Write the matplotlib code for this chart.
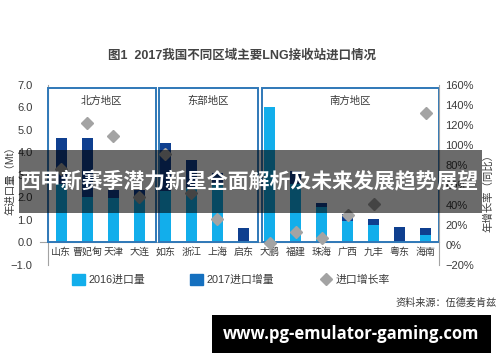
import numpy as np
import matplotlib
matplotlib.use("Agg")
import matplotlib.pyplot as plt
from matplotlib.patches import Rectangle, Patch
from matplotlib.lines import Line2D

plt.rcParams["font.family"] = ["Liberation Sans", "Noto Sans CJK SC"]

# data (Mt, and % for the growth rate)
categories = ["山东", "曹妃甸", "天津", "大连", "如东", "浙江", "上海", "启东",
              "大鹏", "福建", "珠海", "广西", "九丰", "粤东", "海南"]
import_2016 = [2.6, 2.0, 1.95, 1.95, 2.3, 2.4, 2.65, 0.0,
               6.0, 2.6, 1.58, 0.95, 0.77, 0.0, 0.32]
increase_2017 = [2.03, 2.63, 0.37, 0.37, 2.13, 1.26, 0.42, 0.62,
                 0.0, 0.59, 0.16, 0.31, 0.25, 0.69, 0.33]
growth_rate = [76, 122, 109, 48, 91, 52, 26, np.nan,
               2, 13, 7, 30, 41, np.nan, 132]
regions = ["北方地区", "东部地区", "南方地区"]
left_ticks = np.arange(-1, 8)
right_ticks = np.arange(-20, 161, 20)

light = "#12AEEB"
dark = "#0F3F8F"
legend_dark = "#1570BF"
frame = "#2F78B8"
grey = "#A3A3A3"
text_c = "#3A3A3A"

fig = plt.figure(figsize=(5, 3.62), dpi=100)
ax = fig.add_axes([0.096, 0.2685, 0.782, 0.4967])

x = np.arange(len(categories))
ax.bar(x, import_2016, width=0.42, color=light, zorder=2)
ax.bar(x, increase_2017, bottom=import_2016, width=0.42, color=dark, zorder=2)
ax.axhline(0, xmin=-0.02, xmax=1, color=grey, lw=0.8, clip_on=False, zorder=1)

ax.set_xlim(-0.5, 14.5)
ax.set_ylim(-1, 7)
ax.set_xticks([])
ax.set_yticks(left_ticks)
ax.set_yticklabels([f"{v:.1f}".replace("-", "\u2212") for v in left_ticks])
ax.tick_params(axis="y", length=0, pad=11, labelsize=8, labelcolor=text_c)
for s in ["top", "right", "bottom"]:
    ax.spines[s].set_visible(False)
ax.spines["left"].set_color(grey)

# region frames
region_spans = [(-0.5, 3.63), (3.75, 7.55), (7.7, 14.5)]
for (x0, x1), name in zip(region_spans, regions):
    ax.add_patch(Rectangle((x0, 0), x1 - x0, 6.87, fill=False,
                           edgecolor=frame, lw=1.4, zorder=3, clip_on=False))
    ax.text((x0 + x1) / 2, 6.3, name, ha="center", va="center",
            fontsize=7.5, color=text_c)

for i, cat in enumerate(categories):
    ax.text(i, -0.43, cat, ha="center", va="center", fontsize=7.2, color=text_c)

ax2 = ax.twinx()
ax2.plot(x, growth_rate, "D", color=grey, ms=6, ls="none", zorder=4)
ax2.set_ylim(-20, 160)
ax2.set_yticks(right_ticks)
ax2.set_yticklabels([f"{v}%".replace("-", "\u2212") for v in right_ticks])
ax2.tick_params(axis="y", length=0, pad=4.5, labelsize=8, labelcolor=text_c)
for s in ["top", "left", "bottom"]:
    ax2.spines[s].set_visible(False)
ax2.spines["right"].set_color(grey)

fig.text(0.02, 1 - 178 / 362, "年进口量（Mt）", rotation=90, ha="center",
         va="center", fontsize=7.5, color=text_c)
fig.text(0.976, 1 - 190 / 362, "年增长率（同比）", rotation=90, ha="center",
         va="center", fontsize=7.5, color=text_c)

fig.text(0.484, 1 - 55 / 362, "图1  2017我国不同区域主要LNG接收站进口情况",
         ha="center", va="center", fontsize=9, weight="bold", color="#444444")

handles = [Patch(color=light), Patch(color=legend_dark),
           Line2D([], [], marker="D", color=grey, ls="none", ms=6)]
fig.legend(handles, ["2016进口量", "2017进口增量", "进口增长率"], ncol=3,
           loc="center", bbox_to_anchor=(0.462, 1 - 279.5 / 362), frameon=False,
           fontsize=7.8, handlelength=1.2, handleheight=1.2, handletextpad=0.3,
           columnspacing=4.2, labelcolor=text_c)

fig.text(0.994, 1 - 303 / 362, "资料来源：伍德麦肯兹", ha="right", va="center",
         fontsize=7.3, color=text_c)

# overlay banner and watermark
fig.add_artist(Rectangle((0.038, 0.4116), 0.926, 0.174, transform=fig.transFigure,
                         facecolor="black", alpha=0.58, lw=0, zorder=20))
fig.text(0.5, 1 - 182 / 362, "西甲新赛季潜力新星全面解析及未来发展趋势展望",
         ha="center", va="center", fontsize=15, weight="bold", color="white",
         family=["Noto Sans CJK SC"], zorder=21)
fig.add_artist(Rectangle((0.424, 0.0257), 0.558, 0.1044, transform=fig.transFigure,
                         facecolor="black", lw=0, zorder=20))
fig.text(0.703, 0.0773, "www.pg-emulator-gaming.com", ha="center", va="center",
         fontsize=12, weight="bold", color="white", family=["Open Sans"], zorder=21)

fig.savefig("out.png", dpi=100)
